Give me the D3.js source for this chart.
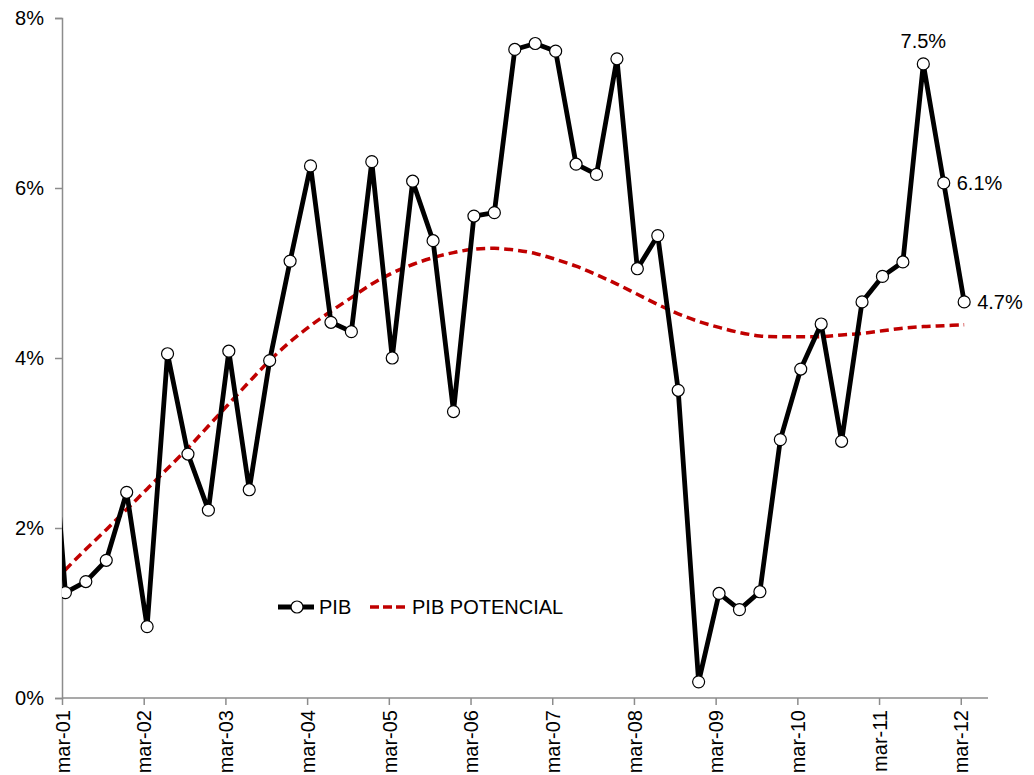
<!DOCTYPE html>
<html>
<head>
<meta charset="utf-8">
<script src="https://cdn.jsdelivr.net/npm/d3@7"></script>
<style>
  html, body { margin: 0; padding: 0; background: #fff; }
  svg { display: block; font-family: "Liberation Sans", Arial, sans-serif; }
</style>
</head>
<body>
<svg id="chart" width="1034" height="775"></svg>
<script>
// Quarterly periods, from dic-00 through mar-12
const periods = [
  "dic-00",
  "mar-01","jun-01","sep-01","dic-01",
  "mar-02","jun-02","sep-02","dic-02",
  "mar-03","jun-03","sep-03","dic-03",
  "mar-04","jun-04","sep-04","dic-04",
  "mar-05","jun-05","sep-05","dic-05",
  "mar-06","jun-06","sep-06","dic-06",
  "mar-07","jun-07","sep-07","dic-07",
  "mar-08","jun-08","sep-08","dic-08",
  "mar-09","jun-09","sep-09","dic-09",
  "mar-10","jun-10","sep-10","dic-10",
  "mar-11","jun-11","sep-11","dic-11",
  "mar-12"
];

// GDP growth, % year on year
const pib = [
  4.40,
  1.24, 1.37, 1.62, 2.42,
  0.84, 4.05, 2.87, 2.21,
  4.08, 2.45, 3.97, 5.14,
  6.26, 4.42, 4.31, 6.31,
  4.00, 6.08, 5.38, 3.37,
  5.67, 5.71, 7.63, 7.70,
  7.61, 6.28, 6.16, 7.52,
  5.05, 5.44, 3.62, 0.19,
  1.23, 1.04, 1.25, 3.04,
  3.87, 4.40, 3.02, 4.66,
  4.96, 5.13, 7.46, 6.06,
  4.66
];

// Potential GDP growth, %
const pibPotencial = [
  1.27,
  1.51, 1.75, 1.98, 2.22,
  2.46, 2.70, 2.94, 3.20,
  3.46, 3.72, 3.97, 4.19,
  4.38, 4.55, 4.71, 4.87,
  5.00, 5.10, 5.18, 5.24,
  5.28, 5.29, 5.27, 5.23,
  5.16, 5.08, 4.98, 4.87,
  4.75, 4.63, 4.52, 4.43,
  4.36, 4.30, 4.26, 4.25,
  4.25, 4.25, 4.27, 4.29,
  4.32, 4.35, 4.37, 4.38,
  4.39
];

// Axis labels
const xTickLabels = ["mar-01","mar-02","mar-03","mar-04","mar-05","mar-06",
                     "mar-07","mar-08","mar-09","mar-10","mar-11","mar-12"];
const yTicks = [0, 2, 4, 6, 8];

// Periods that carry a value label, and where the label sits
const labeled = [
  { period: "sep-11", pos: "top" },
  { period: "dic-11", pos: "right" },
  { period: "mar-12", pos: "right" }
];

const svg = d3.select("#chart");
const plotLeft = 62, plotRight = 988, plotTop = 18, plotBottom = 698;

// months counted from March 2001; observations sit half a month after each tick
const monthOf = i => (i - 1) * 3 + 0.5;
const x = d3.scaleLinear().domain([0, 136]).range([plotLeft, plotRight]);
const y = d3.scaleLinear().domain([0, 8]).range([plotBottom, plotTop]);

const rows = periods.map((p, i) => ({
  period: p, m: monthOf(i), pib: pib[i], pot: pibPotencial[i]
}));

svg.append("defs").append("clipPath").attr("id", "plot")
  .append("rect").attr("x", plotLeft).attr("y", 0)
  .attr("width", plotRight - plotLeft + 20).attr("height", plotBottom + 10);

const font = "20px";
const axisColor = "#8c8c8c";

// Y axis
const yAxis = svg.append("g").attr("transform", `translate(${plotLeft},0)`)
  .call(d3.axisLeft(y).tickValues(yTicks).tickSize(7).tickPadding(11)
    .tickFormat(d => d + "%"));
yAxis.select(".domain").attr("stroke", axisColor).attr("stroke-width", 1.5);
yAxis.selectAll(".tick line").attr("stroke", axisColor).attr("stroke-width", 1.5);
yAxis.selectAll(".tick text").attr("font-size", font).attr("fill", "#000")
  .attr("font-family", "Liberation Sans, Arial, sans-serif");

// X axis
const xAxis = svg.append("g").attr("transform", `translate(0,${plotBottom})`)
  .call(d3.axisBottom(x).tickValues(xTickLabels.map((_, i) => i * 12))
    .tickSize(7).tickSizeOuter(0).tickFormat((d, i) => xTickLabels[i]));
xAxis.select(".domain").attr("stroke", axisColor).attr("stroke-width", 1.5)
  .attr("d", `M${plotLeft},0H${plotRight}`);
xAxis.selectAll(".tick line").attr("stroke", axisColor).attr("stroke-width", 1.5);
xAxis.selectAll(".tick text")
  .attr("font-size", font).attr("fill", "#000")
  .attr("font-family", "Liberation Sans, Arial, sans-serif")
  .attr("text-anchor", "end")
  .attr("transform", "rotate(-90)")
  .attr("x", -12).attr("y", 0).attr("dy", "0.36em");

const plot = svg.append("g").attr("clip-path", "url(#plot)");

// Potential GDP, smoothed dashed line
plot.append("path").datum(rows)
  .attr("fill", "none").attr("stroke", "#C00000")
  .attr("stroke-width", 3.5).attr("stroke-dasharray", "9,5")
  .attr("d", d3.line().x(d => x(d.m)).y(d => y(d.pot)).curve(d3.curveCatmullRom.alpha(0.5)));

// GDP line
plot.append("path").datum(rows)
  .attr("fill", "none").attr("stroke", "#000")
  .attr("stroke-width", 4.8).attr("stroke-linejoin", "round")
  .attr("d", d3.line().x(d => x(d.m)).y(d => y(d.pib)));

// GDP markers
plot.selectAll("circle.pib").data(rows.filter(d => d.m >= 0)).join("circle")
  .attr("class", "pib")
  .attr("cx", d => x(d.m)).attr("cy", d => y(d.pib)).attr("r", 6)
  .attr("fill", "#fff").attr("stroke", "#000").attr("stroke-width", 1.2);

// Value labels
const fmt = d3.format(".1f");
labeled.forEach(l => {
  const d = rows.find(r => r.period === l.period);
  const t = svg.append("text").attr("font-size", font).attr("fill", "#000")
    .text(fmt(d.pib) + "%");
  if (l.pos === "top") {
    t.attr("x", x(d.m)).attr("y", y(d.pib) - 16).attr("text-anchor", "middle");
  } else {
    t.attr("x", x(d.m) + 13).attr("y", y(d.pib)).attr("dy", "0.36em");
  }
});

// Legend
const lg = svg.append("g").attr("transform", "translate(0,607)");
lg.append("line").attr("x1", 278).attr("x2", 314).attr("y1", 0).attr("y2", 0)
  .attr("stroke", "#000").attr("stroke-width", 4.8);
lg.append("circle").attr("cx", 297).attr("cy", 0).attr("r", 6)
  .attr("fill", "#fff").attr("stroke", "#000").attr("stroke-width", 1.2);
lg.append("text").attr("x", 319).attr("y", 0).attr("dy", "0.36em")
  .attr("font-size", font).text("PIB");
lg.append("line").attr("x1", 370).attr("x2", 405).attr("y1", 0).attr("y2", 0)
  .attr("stroke", "#C00000").attr("stroke-width", 3.5).attr("stroke-dasharray", "9,4");
lg.append("text").attr("x", 412).attr("y", 0).attr("dy", "0.36em")
  .attr("font-size", font).text("PIB POTENCIAL");
</script>
</body>
</html>
